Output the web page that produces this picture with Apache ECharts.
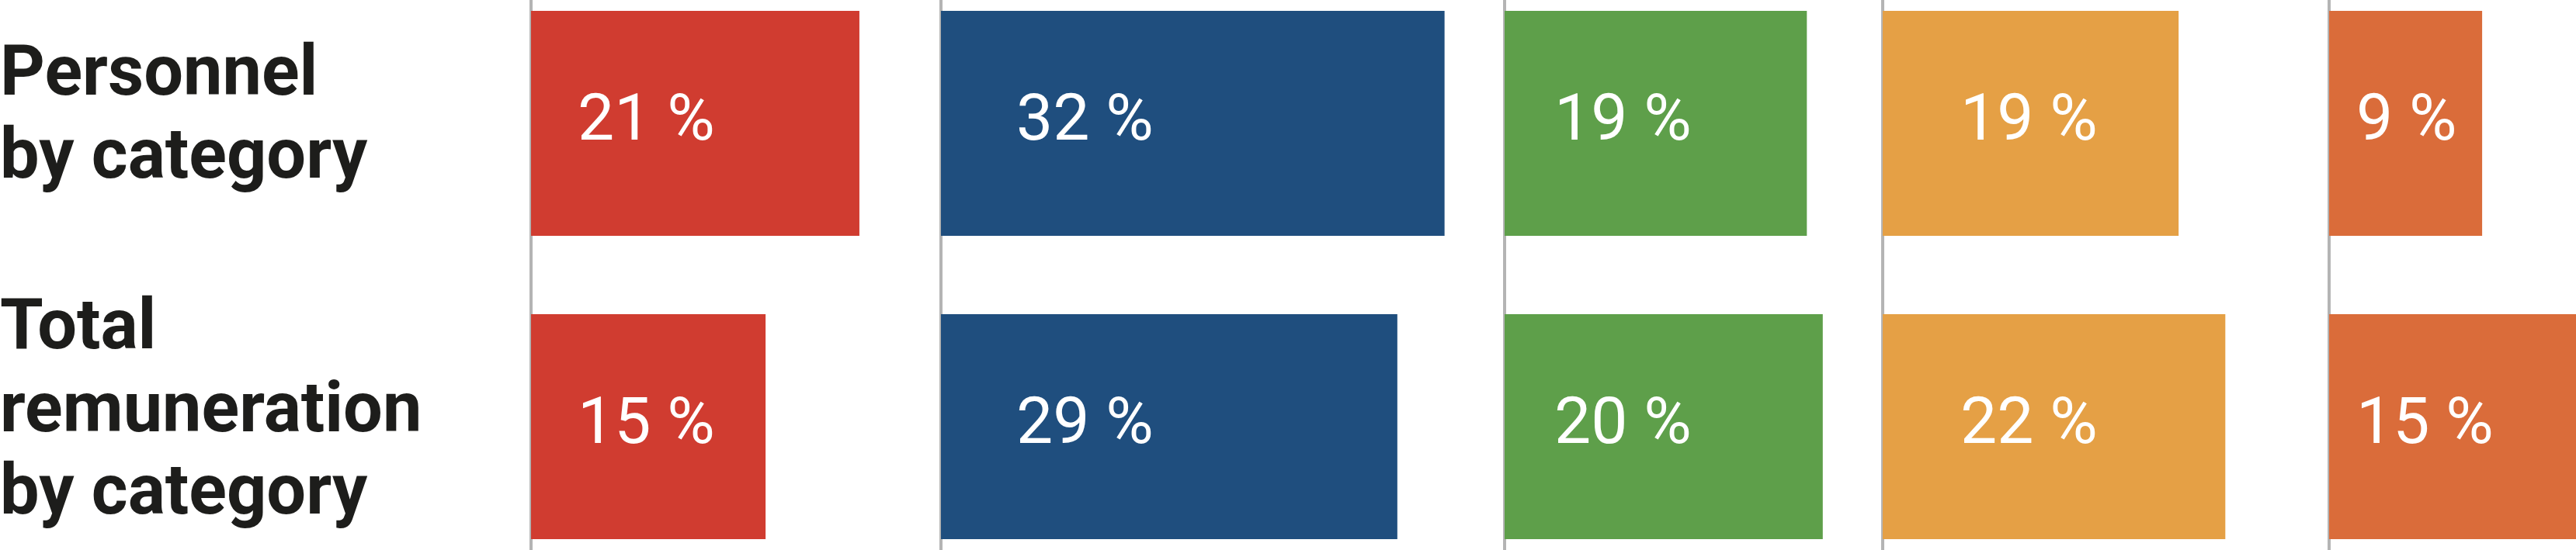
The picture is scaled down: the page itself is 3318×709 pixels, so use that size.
<!DOCTYPE html>
<html>
<head>
<meta charset="utf-8">
<script src="https://cdn.jsdelivr.net/npm/echarts@6/dist/echarts.min.js"></script>
<style>
  html, body { margin: 0; padding: 0; background: #ffffff; }
  #chart { width: 3318px; height: 709px; }
</style>
</head>
<body>
<div id="chart"></div>
<script>
// ---- data ----
const categories = ['Personnel\nby category', 'Total\nremuneration\nby category'];
const personnelShare    = [21, 32, 19, 19, 9];   // % of personnel, per group
const remunerationShare = [15, 29, 20, 22, 15];  // % of total remuneration, per group
const valueSuffix = ' %';

// ---- style / layout ----
const colors     = ['#D03C30', '#1F4E7E', '#5E9F4A', '#E5A045', '#DA6C3A'];
const panelLeft  = [684, 1212, 1938, 2425, 3000];     // bar start of each panel
const pxPerUnit  = [20.14, 20.27, 20.49, 20.06, 21.9]; // scale of each panel
const labelInset = [60, 97, 64, 100, 35];             // value label left offset
const panelWidth = 318;

const chart = echarts.init(document.getElementById('chart'), null, { renderer: 'canvas' });

const titleStyle = {
  fontFamily: 'Roboto', fontWeight: 'bold', fontSize: 90, lineHeight: 106.7, color: '#1D1D1B'
};

const grids = [], xAxes = [], yAxes = [], series = [];
for (let i = 0; i < colors.length; i++) {
  const w = (i < colors.length - 1) ? (panelLeft[i + 1] - panelLeft[i] - 8) : panelWidth;
  grids.push({ left: panelLeft[i], top: -36.5, width: w, height: 782,
               containLabel: false, outerBoundsMode: 'none' });
  xAxes.push({
    type: 'value', gridIndex: i, min: 0, max: w / pxPerUnit[i],
    show: false, splitLine: { show: false }
  });
  yAxes.push({
    type: 'category', gridIndex: i, inverse: true, data: categories,
    offset: 2,
    axisLine: { show: true, lineStyle: { color: '#B4B4B4', width: 4 } },
    axisTick: { show: false },
    splitLine: { show: false },
    axisLabel: i === 0 ? {
      show: true, align: 'left', margin: 682,
      fontFamily: 'Roboto', fontWeight: 'bold', fontSize: 90, lineHeight: 106.7,
      color: '#1D1D1B',
      formatter: (value, idx) =>
        value.split('\n').map(l => '{t|' + l + '}').join('\n') + '\n{g' + idx + '|}',
      rich: {
        t: titleStyle,
        g0: { fontSize: 1, lineHeight: 12 },
        g1: { fontSize: 1, lineHeight: 34 }
      }
    } : { show: false }
  });
  series.push({
    type: 'bar', xAxisIndex: i, yAxisIndex: i,
    data: [personnelShare[i], remunerationShare[i]],
    barWidth: 290,
    itemStyle: { color: colors[i] },
    label: {
      show: true, position: [labelInset[i], '50%'], align: 'left', verticalAlign: 'middle',
      fontFamily: 'Roboto', fontSize: 84, color: '#FFFFFF',
      formatter: p => p.value + valueSuffix
    },
    silent: true, animation: false
  });
}

chart.setOption({
  backgroundColor: '#FFFFFF',
  animation: false,
  grid: grids, xAxis: xAxes, yAxis: yAxes, series: series
});
</script>
</body>
</html>
